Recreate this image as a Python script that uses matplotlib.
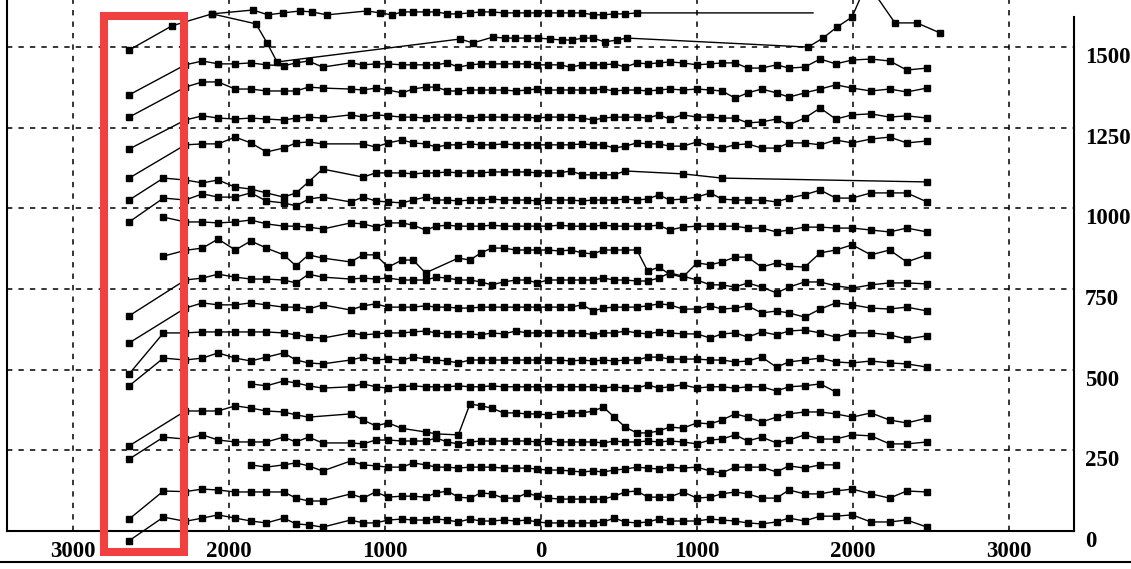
import matplotlib
matplotlib.use("Agg")
import matplotlib.pyplot as plt
from matplotlib.patches import Rectangle
from matplotlib.lines import Line2D

N = None

# shared sample positions along the x axis (left side negative)
x_grid = [-2640, -2420, -2280, -2170, -2070, -1960, -1860, -1760, -1650, -1570,
          -1490, -1400, -1220, -1140, -1060, -980, -890, -820, -740, -670,
          -600, -530, -455, -385, -315, -240, -160, -90, -25, 45,
          120, 190, 265, 335, 400, 470, 540, 615, 685, 755,
          825, 910, 1000, 1085, 1160, 1245, 1325, 1415, 1510, 1590,
          1690, 1790, 1890, 1995, 2115, 2235, 2345, 2475]

# top two profiles have their own sample positions
top_a_x = [-2640, -2365, -2109, -1846, -1750, -1654, -1545, -1468, -1372, -1115, -1032, -955,
           -890, -820, -740, -670, -600, -530, -455, -385, -315, -240, -160,
           -90, -25, 45, 120, 190, 265, 335, 400, 470, 540, 615, 1744]
top_a_y = [1491, 1566, 1603, 1615, 1600, 1606, 1612, 1609, 1600, 1612, 1606, 1600,
           1609, 1609, 1609, 1609, 1603, 1603, 1606, 1609, 1609, 1606, 1606,
           1606, 1606, 1606, 1606, 1606, 1606, 1600, 1600, 1603, 1603, 1606, 1606]

top_b_x = [-2109, -1827, -1756, -1692, -519, -436, -308, -231, -167, -90, -19, 58, 135,
           199, 269, 333, 410, 487, 551, 1712, 1808, 1897, 1994, 2090, 2269, 2410, 2558]
top_b_y = [1603, 1572, 1513, 1454, 1525, 1513, 1531, 1528, 1528, 1528, 1528, 1525, 1522,
           1522, 1528, 1528, 1516, 1522, 1528, 1500, 1528, 1562, 1593, 1700, 1575, 1575, 1544]

r01 = [1352, N, 1445, 1457, 1448, 1448, 1451, 1445, 1442, 1451,
       1457, 1438, 1451, 1445, 1448, 1448, 1445, 1445, 1445, 1445,
       1451, 1438, 1445, 1448, 1448, 1448, 1448, 1448, 1445, 1445,
       1445, 1438, 1445, 1445, 1445, 1448, 1438, 1451, 1448, 1451,
       1454, 1451, 1445, 1448, 1451, 1451, 1435, 1435, 1445, 1435,
       1438, 1463, 1448, 1460, 1463, 1457, 1429, 1435]
r02 = [1283, N, 1376, 1392, 1392, 1370, 1370, 1364, 1364, 1364,
       1376, 1373, 1370, 1367, 1373, 1367, 1358, 1370, 1376, 1376,
       1364, 1364, 1367, 1367, 1367, 1367, 1364, 1367, 1370, 1367,
       1367, 1367, 1367, 1367, 1370, 1364, 1367, 1367, 1364, 1367,
       1370, 1367, 1370, 1367, 1364, 1342, 1358, 1370, 1358, 1345,
       1358, 1370, 1383, 1373, 1364, 1370, 1361, 1373]
r03 = [1184, N, 1274, 1287, 1280, 1277, 1280, 1277, 1274, 1280,
       1283, 1280, 1290, 1283, 1290, 1287, 1283, 1283, 1280, 1283,
       1283, 1283, 1280, 1283, 1283, 1283, 1283, 1283, 1280, 1283,
       1283, 1283, 1280, 1274, 1280, 1283, 1283, 1283, 1280, 1290,
       1277, 1290, 1283, 1283, 1280, 1280, 1265, 1268, 1277, 1259,
       1280, 1311, 1277, 1290, 1293, 1283, 1287, 1280]
r04 = [1094, N, 1197, 1200, 1200, 1221, 1203, 1175, 1187, 1203,
       1206, 1200, N, 1200, 1190, 1203, 1212, 1203, 1200, 1190,
       1197, 1197, 1200, 1197, 1197, 1200, 1197, 1197, 1197, 1197,
       1197, 1197, 1200, 1197, 1197, 1187, 1193, 1203, 1200, 1200,
       1193, 1193, 1206, 1193, 1187, 1197, 1200, 1187, 1187, 1203,
       1203, 1197, 1212, 1203, 1215, 1221, 1203, 1209]
r05 = [1026, 1094, 1088, 1079, 1088, 1066, 1060, 1048, 1035, 1048,
       1082, 1122, N, 1097, 1110, 1110, 1110, 1107, 1110, 1110,
       1113, 1110, 1110, 1110, 1113, 1113, 1113, 1113, 1110, 1110,
       1110, 1116, 1104, 1104, 1104, 1104, 1116, N, N, N,
       N, 1107, N, N, 1094, N, N, N, N, N,
       N, N, N, N, N, N, N, 1082]
r06 = [958, 1032, 1026, 1045, 1035, 1035, 1048, 1023, 1017, 1008,
       1029, 1035, 1020, 1035, 1023, 1020, 1017, 1026, 1035, 1026,
       1026, 1023, 1026, 1026, 1029, 1026, 1026, 1026, 1023, 1026,
       1026, 1026, 1023, 1026, 1026, 1026, 1029, 1026, 1029, 1042,
       1026, 1029, 1035, 1048, 1029, 1026, 1026, 1026, 1020, 1032,
       1042, 1057, 1032, 1032, 1048, 1048, 1048, 1020]
r07 = [N, 973, 958, 958, 955, 958, 964, 952, 945, 945,
       942, 936, 955, 952, 942, 955, 955, 948, 933, 945,
       948, 945, 945, 945, 948, 945, 945, 945, 945, 945,
       948, 945, 945, 945, 948, 945, 945, 945, 945, 948,
       933, 942, 945, 945, 945, 945, 939, 939, 927, 933,
       942, 942, 939, 939, 933, 927, 939, 927]
r08 = [N, 852, 870, 877, 905, 871, 899, 877, 856, 822,
       856, 846, 834, 856, 856, 818, 840, 840, 800, N,
       N, 846, 840, 862, 877, 877, 871, 871, 871, 871,
       868, 871, 862, 859, 871, 871, 871, 871, 805, 818,
       796, 787, 831, 825, 834, 849, 849, 818, 831, 821,
       818, 862, 871, 887, 856, 871, 834, 856]
r09 = [667, N, 778, 784, 796, 787, 781, 781, 778, 769,
       796, 787, 781, 784, 781, 784, 778, 778, 778, 787,
       784, 778, 778, 772, 763, 772, 778, 778, 769, 778,
       778, 778, 778, 778, 784, 778, 778, 775, 775, 784,
       800, 790, 778, 763, 763, 756, 769, 756, 738, 756,
       772, 772, 760, 753, 763, 769, 769, 766]
r10 = [583, N, 691, 707, 701, 701, 707, 701, 694, 694,
       688, 701, 685, 698, 704, 694, 694, 694, 698, 694,
       694, 691, 691, 694, 694, 694, 694, 694, 694, 694,
       694, 694, 701, 682, 691, 694, 694, 694, 698, 704,
       701, 688, 688, 698, 688, 691, 698, 676, 682, 676,
       663, 688, 707, 701, 691, 688, 694, 682]
r11 = [487, 614, 614, 617, 617, 617, 617, 617, 614, 608,
       601, 598, 614, 608, 611, 614, 614, 617, 620, 614,
       611, 611, 611, 608, 614, 611, 620, 614, 614, 614,
       614, 614, 614, 608, 614, 614, 620, 614, 611, 617,
       614, 611, 611, 598, 611, 614, 601, 617, 608, 620,
       623, 614, 601, 614, 614, 608, 595, 605]
r12 = [450, 536, 530, 536, 552, 536, 527, 539, 552, 530,
       521, 518, 530, 539, 530, 533, 530, 539, 533, 530,
       527, 521, 530, 530, 530, 530, 530, 530, 530, 530,
       530, 527, 530, 527, 530, 527, 530, 530, 539, 539,
       533, 533, 533, 530, 530, 524, 527, 539, 508, 524,
       530, 536, 524, 521, 527, 521, 518, 508]
r13 = [N, N, N, N, N, N, 456, 450, 465, 459,
       450, 443, 447, 456, 447, 443, 447, 450, 447, 447,
       447, 450, 447, 447, 450, 447, 447, 447, 447, 447,
       447, 447, 447, 447, 443, 447, 443, 443, 453, 443,
       447, 453, 443, 447, 447, 443, 447, 447, 434, 447,
       450, 456, 431, N, N, N, N, N]
r14 = [264, N, 372, 372, 372, 388, 381, 372, 369, 360,
       353, N, 363, 344, 326, 335, 318, N, 307, 301,
       N, 298, 394, 388, 381, 366, 366, 363, 363, 360,
       363, 366, 366, 372, 384, 353, 322, 304, 304, 310,
       322, 319, 335, 332, 344, 363, 353, 338, 353, 363,
       369, 369, 363, 353, 366, 344, 335, 350]
r15 = [223, 291, 285, 298, 282, 276, 276, 276, 291, 276,
       291, 273, 273, 270, 282, 282, 279, 279, 279, 288,
       276, 270, 276, 279, 279, 279, 279, 279, 276, 279,
       276, 276, 276, 276, 273, 279, 276, 276, 279, 276,
       279, 276, 270, 282, 285, 298, 279, 291, 273, 282,
       298, 285, 285, 298, 295, 270, 270, 276]
r16 = [N, N, N, N, N, N, 205, 198, 205, 211,
       202, 186, 217, 205, 202, 198, 198, 211, 205, 198,
       198, 195, 198, 198, 198, 195, 195, 195, 192, 189,
       189, 186, 183, 186, 183, 189, 192, 198, 195, 192,
       198, 195, 198, 186, 180, 198, 198, 198, 183, 202,
       195, 205, 205, N, N, N, N, N]
r17 = [37, 124, 122, 130, 127, 121, 121, 121, 121, 102,
       93, 93, 115, 102, 121, 105, 108, 108, 105, 118,
       124, 105, 102, 118, 115, 102, 102, 118, 108, 102,
       99, 99, 99, 99, 99, 108, 121, 124, 105, 105,
       105, 121, 102, 105, 115, 121, 115, 102, 102, 127,
       115, 115, 124, 130, 115, 102, 124, 121]
r18 = [-30, 43, 30, 40, 50, 40, 31, 25, 40, 22,
       19, 12, 34, 25, 25, 34, 37, 34, 34, 37,
       34, 28, 37, 31, 31, 34, 31, 34, 28, 25,
       25, 25, 25, 25, 28, 40, 28, 25, 28, 37,
       31, 31, 31, 37, 34, 31, 25, 22, 28, 40,
       31, 46, 46, 50, 28, 28, 34, 12]

rows = [r01, r02, r03, r04, r05, r06, r07, r08, r09,
        r10, r11, r12, r13, r14, r15, r16, r17, r18]

x_ticks = [-3000, -2000, -1000, 0, 1000, 2000, 3000]
y_ticks = [0, 250, 500, 750, 1000, 1250, 1500]

# highlighted band (data units)
box_x = (-2800, -2290)
box_y = (-65, 1597)

W, H = 1131, 569
fig = plt.figure(figsize=(W / 100, H / 100), dpi=100)
ax = fig.add_axes([7 / W, 38 / H, 1067 / W, 531 / H])
ax.set_xlim(-3423, 3417)
ax.set_ylim(0, 1646)

line_kw = dict(color="black", lw=1.0, marker="s", ms=4.2, clip_on=False, zorder=3)


def draw(xs, ys, **kw):
    pts = [(x, y) for x, y in zip(xs, ys) if y is not None]
    px, py = zip(*pts)
    opts = dict(line_kw)
    opts.update(kw)
    ax.plot(px, py, **opts)


for ys in rows:
    draw(x_grid, ys)

draw(top_a_x, top_a_y, markevery=slice(0, len(top_a_x) - 1))
draw(top_b_x, top_b_y, markevery=[i for i in range(len(top_b_x)) if i != 23])

# grid
ax.set_xticks(x_ticks)
ax.set_yticks(y_ticks)
ax.grid(True, color="black", lw=1.1, ls=(0, (3.5, 4)), zorder=1)
ax.set_axisbelow(True)

tick_font = dict(family="Liberation Serif", weight="bold", size=16.5)
ax.set_xticklabels([f"{abs(v)}" for v in x_ticks], **tick_font)
ax.yaxis.tick_right()
ax.set_yticklabels([str(v) for v in y_ticks], va="top", **tick_font)
ax.tick_params(axis="both", length=0)
ax.tick_params(axis="x", pad=7)
ax.tick_params(axis="y", pad=8)

for side in ("left", "bottom", "right"):
    ax.spines[side].set_linewidth(1.5)
ax.spines["top"].set_visible(False)
ax.spines["right"].set_bounds(0, 1593)

# red highlight box
ax.add_patch(Rectangle((box_x[0], box_y[0]), box_x[1] - box_x[0], box_y[1] - box_y[0],
                       fill=False, edgecolor="#f04040", lw=5.8, clip_on=False, zorder=5))

# frame line under the tick labels
fig.add_artist(Line2D([0, 1], [7 / H, 7 / H], color="black", lw=1.5))

fig.savefig("out.png", dpi=100, facecolor="white")
